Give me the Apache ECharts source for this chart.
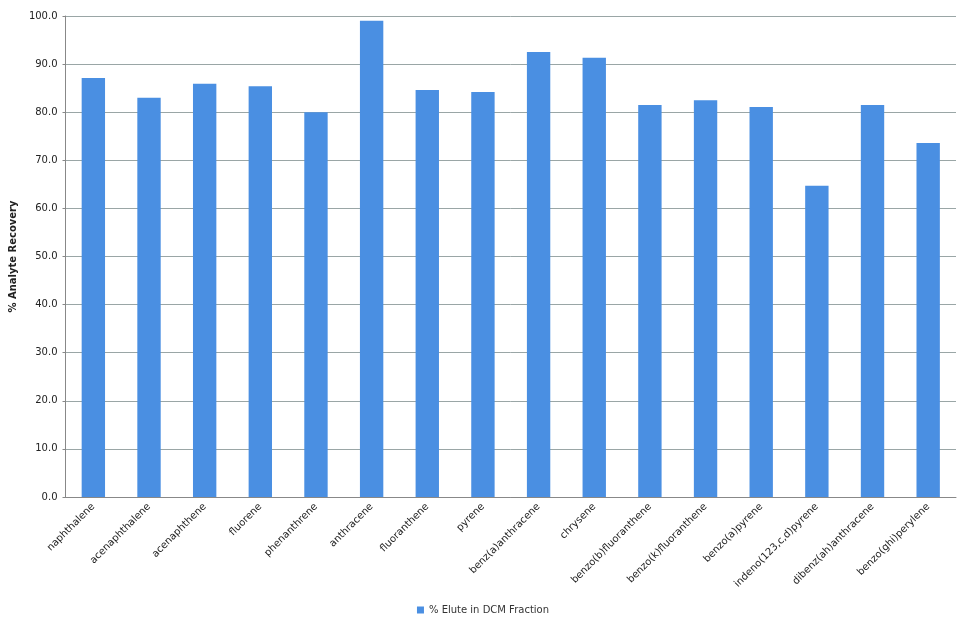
<!DOCTYPE html>
<html><head><meta charset="utf-8">
<script src="https://cdn.jsdelivr.net/npm/echarts@6/dist/echarts.min.js"></script>
<style>html,body{margin:0;padding:0;background:#fff}#c{width:966px;height:630px}</style>
</head><body><div id="c"></div>
<script>
const categories = ["naphthalene","acenaphthalene","acenaphthene","fluorene","phenanthrene","anthracene","fluoranthene","pyrene","benz(a)anthracene","chrysene","benzo(b)fluoranthene","benzo(k)fluoranthene","benzo(a)pyrene","indeno(123,c,d)pyrene","dibenz(ah)anthracene","benzo(ghi)perylene"];
const values = [87.1,83.0,85.9,85.4,80.0,99.0,84.6,84.2,92.5,91.3,81.5,82.5,81.1,64.7,81.5,73.6];
const seriesName = "% Elute in DCM Fraction";
const chart = echarts.init(document.getElementById('c'));
chart.setOption({
  animation:false,
  grid:{left:56,right:10,top:16,bottom:133},
  legend:{bottom:10,left:'center',itemWidth:7,itemHeight:7,icon:'rect',textStyle:{fontSize:10,color:'#333',fontFamily:'DejaVu Sans'}},
  xAxis:{type:'category',data:categories,axisTick:{show:false},axisLine:{lineStyle:{color:'#888'}},
    axisLabel:{rotate:45,fontSize:10,color:'#222',interval:0,fontFamily:'DejaVu Sans'}},
  yAxis:{type:'value',min:0,max:100,interval:10,name:'% Analyte Recovery',nameLocation:'middle',nameGap:42,
    nameTextStyle:{fontSize:10,fontWeight:'bold',color:'#222',fontFamily:'DejaVu Sans'},
    axisLine:{show:true,lineStyle:{color:'#888'}},axisTick:{show:true,length:3},
    axisLabel:{fontSize:10,color:'#222',formatter:v=>v.toFixed(1),fontFamily:'DejaVu Sans'},
    splitLine:{lineStyle:{color:'#9aa6a6'}}},
  series:[{name:seriesName,type:'bar',data:values,barWidth:'42%',itemStyle:{color:'#4a8fe2'}}]
});
</script></body></html>
